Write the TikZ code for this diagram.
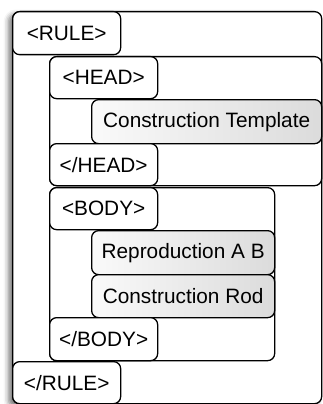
\documentclass[tikz,border=0pt]{standalone}
\usepackage{fontspec}
\setmainfont{Liberation Sans}
\usetikzlibrary{shadows.blur}
\tikzset{
  frame/.style={draw=black, line width=1.3pt, rounded corners=7pt, fill=white,
    anchor=north west, inner sep=0pt, font=\fontsize{20.8}{24}\selectfont},
  tagbox/.style={frame},
  leafbox/.style={frame, left color=gray!4, right color=gray!28},
  holder/.style={frame},
  outerholder/.style={frame, blur shadow={shadow xshift=-4pt, shadow yshift=-3pt,
    shadow blur radius=5pt, shadow opacity=55}},
}
\begin{document}
\begin{tikzpicture}[x=1pt,y=-1pt]
\useasboundingbox (0,0) rectangle (322,404);
% containers
\node[outerholder, minimum width=309pt, minimum height=392pt] (ruleblk) at (12,11) {};
\node[holder, minimum width=272pt, minimum height=129pt] (headblk) at (49,56) {};
\node[holder, minimum width=225pt, minimum height=173pt] (bodyblk) at (49,187) {};
% tags and entries
\node[tagbox, minimum width=108pt, minimum height=43pt] (rule) at (12,11) {<RULE>};
\node[tagbox, minimum width=108pt, minimum height=42pt] (head) at (49,56) {<HEAD>};
\node[leafbox, minimum width=230pt, minimum height=44pt] (tmpl) at (91,99) {Construction Template};
\node[tagbox, minimum width=108pt, minimum height=42pt] (endhead) at (49,143) {</HEAD>};
\node[tagbox, minimum width=108pt, minimum height=42pt] (body) at (49,187) {<BODY>};
\node[leafbox, minimum width=183pt, minimum height=44pt] (repro) at (91,230) {Reproduction A B};
\node[leafbox, minimum width=183pt, minimum height=43pt] (rod) at (91,274) {Construction Rod};
\node[tagbox, minimum width=108pt, minimum height=43pt] (endbody) at (49,317) {</BODY>};
\node[tagbox, minimum width=108pt, minimum height=42pt] (endrule) at (12,361) {</RULE>};
\end{tikzpicture}
\end{document}
